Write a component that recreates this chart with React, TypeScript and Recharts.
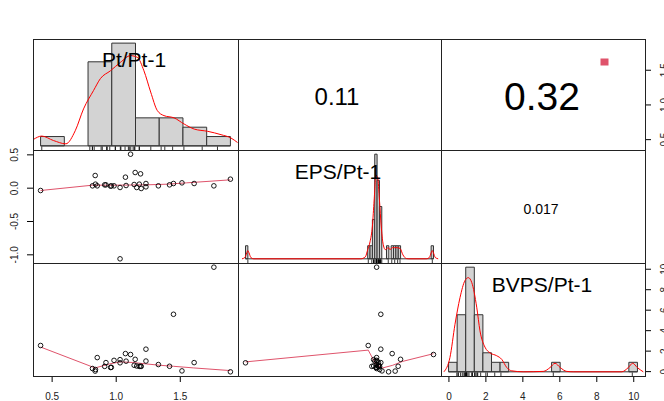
import { ComposedChart, Scatter, Line, XAxis, YAxis, ReferenceArea, ReferenceLine } from "recharts"

// one entry per observation
const pt = [0.41, 0.815, 0.836, 0.838, 0.852, 0.91, 0.92, 0.956, 0.962, 0.983, 1.03, 1.03, 1.072, 1.077, 1.112, 1.148, 1.14, 1.16, 1.18, 1.19, 1.195, 1.232, 1.232, 1.329, 1.416, 1.447, 1.513, 1.608, 1.762, 1.891]
const eps = [-0.035, 0.035, 0.19, 0.06, 0.035, 0.05, 0.05, 0.03, 0.035, 0.035, 0.01, -1.06, 0.165, 0.04, 0.51, 0.235, 0.055, 0.01, 0.06, 0.215, -0.005, 0.07, 0.02, 0.035, 0.05, 0.07, 0.08, 0.07, 0.035, 0.135]
const bvps = [2.55, 0.3, 0.05, 0.2, 1.37, 0.51, 0.88, 0.4, 0.42, 1.1, 1.17, 0.86, 1.76, 1.02, 1.67, 1.2, 0.62, 0.55, 0.51, 0.52, 0.51, 2.19, 1.03, 0.69, 0.52, 5.6, 0.07, 0.88, 10.2, -0.02]

const varNames = ["Pt/Pt-1", "EPS/Pt-1", "BVPS/Pt-1"]
const corrLabels = ["0.11", "0.32", "0.017"]

// histograms (bin left edge + count)
const ptBinStart = [0.4, 0.6, 0.8, 1.0, 1.2, 1.4, 1.6, 1.8]
const ptBinCount = [1, 0, 9, 11, 3, 3, 2, 1]
const ptBinRange = [0.4, 2.0]
const epsBinStart = [-1.08, -0.04, -0.02, 0, 0.02, 0.04, 0.06, 0.12, 0.16, 0.18, 0.2, 0.22, 0.5]
const epsBinCount = [1, 1, 1, 3, 8, 6, 4, 1, 1, 1, 1, 1, 1]
const epsBinRange = [-1.08, 0.52]
const bvpsBinStart = [-0.5, 0, 0.5, 1, 1.5, 2, 2.5, 5.5, 10]
const bvpsBinCount = [1, 6, 11, 6, 2, 1, 1, 1, 1]
const bvpsBinRange = [-0.5, 10.5]

// density curves
const ptDensX = [0.339, 0.41, 0.508, 0.613, 0.692, 0.762, 0.847, 0.904, 0.989, 1.073, 1.158, 1.215, 1.271, 1.328, 1.384, 1.44, 1.525, 1.61, 1.695, 1.808, 1.921, 2.005, 2.06]
const ptDensY = [0.114, 0.175, 0.096, 0.037, 0.27, 0.66, 0.99, 1.2, 1.34, 1.49, 1.61, 1.58, 1.34, 0.96, 0.63, 0.54, 0.5, 0.39, 0.3, 0.26, 0.2, 0.14, 0.06]
const epsDensX = [-1.11, -1.085, -1.07, -1.06, -1.05, -1.035, -1.01, -0.1, -0.06, -0.04, -0.02, 0, 0.015, 0.03, 0.045, 0.06, 0.075, 0.09, 0.11, 0.135, 0.15, 0.17, 0.19, 0.21, 0.235, 0.26, 0.29, 0.31, 0.46, 0.485, 0.5, 0.51, 0.52, 0.535, 0.56]
const epsDensY = [0, 0.17, 0.75, 1.05, 0.75, 0.17, 0, 0, 0.25, 1.17, 2.17, 4.17, 7.5, 10.67, 10.33, 7.5, 4.17, 2.0, 1.17, 1.42, 1.17, 1.42, 1.42, 1.42, 1.33, 0.5, 0.03, 0, 0, 0.17, 0.75, 1.05, 0.75, 0.17, 0]
const bvpsDensX = [-0.77, -0.42, -0.125, 0.167, 0.458, 0.65, 0.848, 1.14, 1.33, 1.62, 1.914, 2.3, 2.6, 2.89, 3.18, 3.86, 5.02, 5.41, 5.7, 6.0, 6.38, 6.77, 9.58, 9.97, 10.22, 10.49, 10.84]
const bvpsDensY = [0, 0.1, 0.333, 0.52, 0.64, 0.66, 0.627, 0.453, 0.287, 0.173, 0.133, 0.113, 0.087, 0.03, 0.007, 0, 0.003, 0.03, 0.06, 0.03, 0.003, 0, 0, 0.03, 0.06, 0.03, 0]

// smoothers in the lower panels
const smPtEpsX = [0.41, 0.815, 1.0, 1.235, 1.4, 1.55, 1.891]
const smPtEpsY = [-0.035, 0.045, 0.045, 0.05, 0.06, 0.08, 0.125]
const smPtBvpsX = [0.41, 0.835, 0.949, 1.03, 1.13, 1.235, 1.34, 1.447, 1.605, 1.891]
const smPtBvpsY = [2.4, 0.36, 0.75, 0.95, 0.89, 0.75, 0.62, 0.52, 0.36, 0.1]
const smEpsBvpsX = [-1.06, -0.035, 0.03, 0.086, 0.17, 0.253, 0.51]
const smEpsBvpsY = [0.95, 2.1, 0.68, 0.36, 0.62, 1.0, 1.75]

// axis ticks
const ptTicks = [0.5, 1.0, 1.5]
const epsTicks = [-1.0, -0.5, 0.0, 0.5]
const bvpsTicks = [0, 2, 4, 6, 8, 10]

const FONT = "'Liberation Sans', Arial, Helvetica, sans-serif"
const COLS = [33, 238, 441, 645]
const ROWS = [39, 150, 263, 376]
const M = { top: 0, right: 0, bottom: 0, left: 0 }

const ext = (lo: number, hi: number): [number, number] => {
  const r = hi - lo
  return [lo - 0.04 * r, hi + 0.04 * r]
}
const ptDom = ext(Math.min(...pt), Math.max(...pt))
const epsDom = ext(Math.min(...eps), Math.max(...eps))
const bvpsDom = ext(Math.min(...bvps), Math.max(...bvps))

const zip = (xs: number[], ys: number[]) => xs.map((x, i) => ({ x, y: ys[i] }))

const ring = (p: any) => <circle cx={p.cx} cy={p.cy} r={2.3} fill="none" stroke="#000" strokeWidth={0.9} />
const rugTick = (p: any) => <line x1={p.cx} x2={p.cx} y1={p.cy} y2={p.cy - 3.5} stroke="#000" strokeWidth={0.8} />
const nothing = () => <g />

const f1 = (v: number) => v.toFixed(1)
const f0 = (v: number) => v.toFixed(0)

const topTick = (y: number, fmt: (v: number) => string) => (p: any) => (
  <text x={p.x} y={y} textAnchor="middle" fontSize={10} fill="#222" fontFamily={FONT}>{fmt(p.payload.value)}</text>
)
const leftTick = (p: any) => (
  <text x={18} y={p.y} transform={`rotate(-90 18 ${p.y})`} textAnchor="middle" fontSize={10} fill="#222" fontFamily={FONT}>{f1(p.payload.value)}</text>
)
const bottomTick = (fmt: (v: number) => string) => (p: any) => (
  <text x={p.x} y={136.5} textAnchor="middle" fontSize={10} fill="#222" fontFamily={FONT}>{fmt(p.payload.value)}</text>
)
const rightTick = (fmt: (v: number) => string) => (p: any) => (
  <text x={227} y={p.y} transform={`rotate(-90 227 ${p.y})`} textAnchor="middle" fontSize={10} fill="#222" fontFamily={FONT}>{fmt(p.payload.value)}</text>
)

const axisStyle = { tickSize: 6, axisLine: false, tickLine: { stroke: "#000" }, interval: 0 as const, allowDataOverflow: true }

function Hist({ left, top, w, h, values, starts, counts, width, range, dx, dy }: any) {
  const n = values.length
  const dens = counts.map((c: number) => c / (n * width))
  const maxD = Math.max(...dens)
  const xDom = ext(range[0], range[1])
  const yDom: [number, number] = [-0.04 * maxD, 1.04 * maxD]
  const rug = values.map((v: number) => ({ x: v, y: yDom[0] }))
  return (
    <div style={{ position: "absolute", left, top }}>
      <ComposedChart width={w} height={h} margin={M}>
        <XAxis type="number" dataKey="x" domain={xDom} hide allowDataOverflow />
        <YAxis type="number" dataKey="y" domain={yDom} hide allowDataOverflow />
        <ReferenceLine segment={[{ x: range[0], y: 0 }, { x: range[1], y: 0 }]} stroke="#333" />
        {starts.map((s: number, i: number) =>
          counts[i] > 0 ? (
            <ReferenceArea key={i} x1={s} x2={s + width} y1={0} y2={dens[i]} fill="#d3d3d3" fillOpacity={1} stroke="#333" strokeWidth={1} />
          ) : null
        )}
        <Line data={zip(dx, dy)} dataKey="y" type="monotone" dot={false} stroke="#ff0000" strokeWidth={1} isAnimationActive={false} />
        <Scatter data={rug} shape={rugTick} isAnimationActive={false} />
      </ComposedChart>
    </div>
  )
}

function Pairs({ left, top, w, h, padTop = 0, xs, ys, sx, sy, xAxis, yAxis }: any) {
  return (
    <div style={{ position: "absolute", left, top: top - padTop }}>
      <ComposedChart width={w} height={h + padTop} margin={{ ...M, top: padTop }}>
        {xAxis}
        {yAxis}
        <Line data={zip(sx, sy)} dataKey="y" type="linear" dot={false} stroke="#DF536B" strokeWidth={1} isAnimationActive={false} />
        <Scatter data={zip(xs, ys)} shape={ring} isAnimationActive={false} />
      </ComposedChart>
    </div>
  )
}

export default function App() {
  return (
    <div style={{ position: "fixed", left: 0, top: 0, width: 664, height: 401, overflow: "hidden", background: "#fff", fontFamily: FONT }}>
      {/* outer axes: top (EPS), right (Pt), bottom and right (BVPS) */}
      <div style={{ position: "absolute", left: COLS[1], top: 0 }}>
        <ComposedChart width={COLS[2] - COLS[1]} height={ROWS[1]} margin={M}>
          <XAxis type="number" orientation="top" domain={epsDom} ticks={epsTicks} height={ROWS[0]} tick={topTick(24, f1)} {...axisStyle} />
          <YAxis type="number" domain={[0, 1]} hide />
        </ComposedChart>
      </div>
      <div style={{ position: "absolute", left: COLS[2], top: ROWS[0] }}>
        <ComposedChart width={COLS[3] - COLS[2] + 30} height={ROWS[1] - ROWS[0]} margin={M}>
          <XAxis type="number" domain={[0, 1]} hide />
          <YAxis type="number" orientation="right" domain={ptDom} ticks={ptTicks} width={30} tick={rightTick(f1)} {...axisStyle} />
        </ComposedChart>
      </div>
      <div style={{ position: "absolute", left: COLS[2], top: ROWS[2] }}>
        <ComposedChart width={COLS[3] - COLS[2] + 30} height={ROWS[3] - ROWS[2]} margin={M}>
          <XAxis type="number" domain={[0, 1]} hide />
          <YAxis type="number" orientation="right" domain={bvpsDom} ticks={bvpsTicks} width={30} tick={rightTick(f0)} {...axisStyle} />
        </ComposedChart>
      </div>
      {/* bottom BVPS axis, tied to the BVPS values so the axis gets drawn */}
      <div style={{ position: "absolute", left: COLS[2], top: ROWS[2] }}>
        <ComposedChart width={COLS[3] - COLS[2]} height={401 - ROWS[2]} margin={M}>
          <XAxis type="number" dataKey="x" domain={bvpsDom} ticks={bvpsTicks} height={401 - ROWS[3]} tick={bottomTick(f0)} {...axisStyle} />
          <YAxis type="number" dataKey="y" domain={[0, 1]} hide />
          <Scatter data={bvps.map((x) => ({ x, y: 0.5 }))} shape={nothing} isAnimationActive={false} />
        </ComposedChart>
      </div>

      <Hist left={COLS[0]} top={ROWS[0]} w={COLS[1] - COLS[0]} h={ROWS[1] - ROWS[0]} values={pt} starts={ptBinStart} counts={ptBinCount} width={0.2} range={ptBinRange} dx={ptDensX} dy={ptDensY} />
      <Hist left={COLS[1]} top={ROWS[1]} w={COLS[2] - COLS[1]} h={ROWS[2] - ROWS[1]} values={eps} starts={epsBinStart} counts={epsBinCount} width={0.02} range={epsBinRange} dx={epsDensX} dy={epsDensY} />
      <Hist left={COLS[2]} top={ROWS[2]} w={COLS[3] - COLS[2]} h={ROWS[3] - ROWS[2]} values={bvps} starts={bvpsBinStart} counts={bvpsBinCount} width={0.5} range={bvpsBinRange} dx={bvpsDensX} dy={bvpsDensY} />

      <Pairs
        left={0}
        top={ROWS[1]}
        w={COLS[1]}
        h={ROWS[2] - ROWS[1]}
        padTop={10}
        xs={pt}
        ys={eps}
        sx={smPtEpsX}
        sy={smPtEpsY}
        xAxis={<XAxis type="number" dataKey="x" domain={ptDom} hide allowDataOverflow />}
        yAxis={<YAxis type="number" dataKey="y" domain={epsDom} ticks={epsTicks} width={COLS[0]} tick={leftTick} {...axisStyle} />}
      />
      <Pairs
        left={COLS[0]}
        top={ROWS[2]}
        w={COLS[1] - COLS[0]}
        h={401 - ROWS[2]}
        xs={pt}
        ys={bvps}
        sx={smPtBvpsX}
        sy={smPtBvpsY}
        xAxis={<XAxis type="number" dataKey="x" domain={ptDom} ticks={ptTicks} height={401 - ROWS[3]} tick={bottomTick(f1)} {...axisStyle} />}
        yAxis={<YAxis type="number" dataKey="y" domain={bvpsDom} hide allowDataOverflow />}
      />
      <Pairs
        left={COLS[1]}
        top={ROWS[2]}
        w={COLS[2] - COLS[1]}
        h={ROWS[3] - ROWS[2]}
        xs={eps}
        ys={bvps}
        sx={smEpsBvpsX}
        sy={smEpsBvpsY}
        xAxis={<XAxis type="number" dataKey="x" domain={epsDom} hide allowDataOverflow />}
        yAxis={<YAxis type="number" dataKey="y" domain={bvpsDom} hide allowDataOverflow />}
      />

      {/* panel frames */}
      {[0, 1, 2].map((r) =>
        [0, 1, 2].map((c) => (
          <div
            key={`${r}-${c}`}
            style={{
              position: "absolute",
              left: COLS[c],
              top: ROWS[r],
              width: COLS[c + 1] - COLS[c] + 1,
              height: ROWS[r + 1] - ROWS[r] + 1,
              border: "1px solid #222",
              boxSizing: "border-box",
              pointerEvents: "none",
            }}
          />
        ))
      )}

      <svg width={664} height={401} style={{ position: "absolute", left: 0, top: 0, pointerEvents: "none" }} fontFamily={FONT}>
        <text x={134} y={66.5} textAnchor="middle" fontSize={21} fill="#000">{varNames[0]}</text>
        <text x={338} y={178.5} textAnchor="middle" fontSize={21} fill="#000">{varNames[1]}</text>
        <text x={542} y={291.5} textAnchor="middle" fontSize={21} fill="#000">{varNames[2]}</text>
        <text x={337} y={105} textAnchor="middle" fontSize={24} fill="#000">{corrLabels[0]}</text>
        <text x={542} y={110} textAnchor="middle" fontSize={39} fill="#000">{corrLabels[1]}</text>
        <text x={541} y={214} textAnchor="middle" fontSize={14} fill="#000">{corrLabels[2]}</text>
        <rect x={600.5} y={58.5} width={8} height={7} fill="#DF536B" />
      </svg>
    </div>
  )
}
